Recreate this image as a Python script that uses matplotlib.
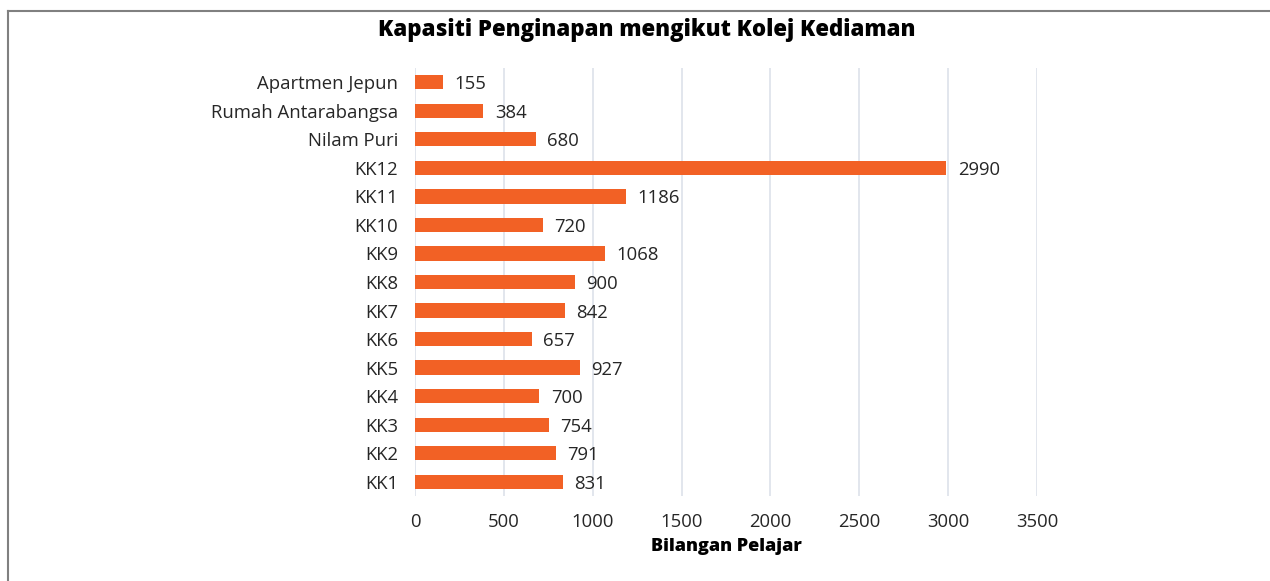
import matplotlib.pyplot as plt
from matplotlib.lines import Line2D

plt.rcParams['font.family'] = ['Open Sans', 'DejaVu Sans']

kolej = ["Apartmen Jepun", "Rumah Antarabangsa", "Nilam Puri", "KK12", "KK11",
         "KK10", "KK9", "KK8", "KK7", "KK6", "KK5", "KK4", "KK3", "KK2", "KK1"]
kapasiti = [155, 384, 680, 2990, 1186, 720, 1068, 900, 842, 657, 927, 700, 754, 791, 831]
xticks = [0, 500, 1000, 1500, 2000, 2500, 3000, 3500]

bar_color = "#F26125"
text_color = "#262626"
fs = 13.3

fig = plt.figure(figsize=(12.7, 5.81), dpi=100)
ax = fig.add_axes([0.3268, 0.1463, 0.8165 - 0.3268, 0.883 - 0.1463])

# urutan dari bawah (KK1) ke atas (Apartmen Jepun)
ypos = list(range(len(kolej)))[::-1]
ax.barh(ypos, kapasiti, height=0.5, color=bar_color, zorder=3)

for y, v in zip(ypos, kapasiti):
    ax.text(v + 65, y, str(v), va="center_baseline", ha="left", fontsize=fs, color=text_color)

ax.set_xlim(0, 3500)
ax.set_ylim(-0.5, len(kolej) - 0.5)
ax.set_yticks(ypos)
ax.set_yticklabels(kolej, fontsize=fs, color=text_color, va="center_baseline")
ax.set_xticks(xticks)
ax.set_xticklabels([str(t) for t in xticks], fontsize=fs, color=text_color)
ax.tick_params(axis="both", length=0)
ax.tick_params(axis="y", pad=12)
ax.tick_params(axis="x", pad=12)

ax.grid(axis="x", color="#DDE2EA", linewidth=1.2, zorder=0)
for s in ax.spines.values():
    s.set_visible(False)

ax.set_xlabel("Bilangan Pelajar", fontsize=13, fontweight="heavy", color="black", labelpad=5)
fig.text(0.509, 0.948, "Kapasiti Penginapan mengikut Kolej Kediaman",
         ha="center", va="center", fontsize=16, fontweight="heavy", color="black")

# bingkai
fig.add_artist(Line2D([8 / 1270, 8 / 1270], [0, 1 - 11 / 581], color="#808080", linewidth=1.5))
fig.add_artist(Line2D([8 / 1270, 1], [1 - 11 / 581, 1 - 11 / 581], color="#808080", linewidth=1.5))

fig.savefig("out.png", dpi=100)
